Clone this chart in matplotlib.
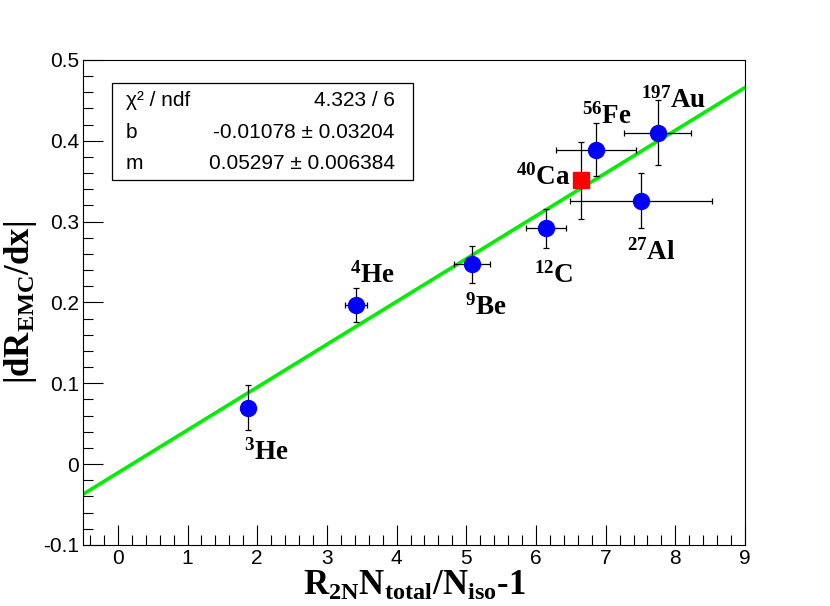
import numpy as np
import matplotlib
matplotlib.use("Agg")
import matplotlib.pyplot as plt
from matplotlib.patches import Rectangle

# --- data ---
nuclei = ["3He", "4He", "9Be", "12C", "56Fe", "27Al", "197Au"]
mass = ["3", "4", "9", "12", "56", "27", "197"]
elem = ["He", "He", "Be", "C", "Fe", "Al", "Au"]
x_val = [1.87, 3.42, 5.08, 6.14, 6.86, 7.51, 7.75]
x_err = [0.0, 0.16, 0.26, 0.29, 0.57, 1.02, 0.48]
y_val = [0.070, 0.197, 0.247, 0.292, 0.389, 0.326, 0.410]
y_err = [0.028, 0.021, 0.023, 0.024, 0.033, 0.034, 0.040]

ca_x = [6.64]
ca_y = [0.351]
ca_yerr = [0.048]

# fit result (straight line y = m*x + b)
chi2, ndf = 4.323, 6
b, b_err = -0.01078, 0.03204
m, m_err = 0.05297, 0.006384

# --- style ---
plt.rcParams["axes.unicode_minus"] = False
plt.rcParams["mathtext.fontset"] = "custom"
plt.rcParams["mathtext.rm"] = "Liberation Serif:bold"
plt.rcParams["mathtext.it"] = "Liberation Serif:bold"
plt.rcParams["mathtext.bf"] = "Liberation Serif:bold"
plt.rcParams["mathtext.default"] = "rm"

fig = plt.figure(figsize=(8.3, 6.06), dpi=100)
ax = fig.add_axes([0.1, 0.1007, 0.7976, 0.8003])

# fit line
xl = np.array([-0.5, 9.0])
ax.plot(xl, m * xl + b, color="#00ee00", lw=2.6, zorder=2)

# data points
ax.errorbar(x_val, y_val, xerr=x_err, yerr=y_err, fmt="o", color="#0000ff",
            ms=11.5, ecolor="black", elinewidth=0.9, capsize=2.5, capthick=0.9,
            zorder=3)
ax.errorbar(ca_x, ca_y, yerr=ca_yerr, fmt="s", color="#ff0000",
            ms=12, ecolor="black", elinewidth=0.9, capsize=2.5, capthick=0.9,
            zorder=3)

# nucleus labels (offsets in points from the marker)
offsets = {"3He": (13, -32.5), "4He": (12, 21), "9Be": (10, -31), "12C": (6, -34),
           "56Fe": (8, 24), "27Al": (7, -37.5), "197Au": (11.5, 23)}
lab_font = dict(family="Liberation Serif", weight="bold", size=19.5)
for nm, a, e, xv, yv in zip(nuclei, mass, elem, x_val, y_val):
    ax.annotate(r"$^{%s}$%s" % (a, e), (xv, yv), xytext=offsets[nm],
                textcoords="offset points", ha="center", va="center", **lab_font)
ax.annotate(r"$^{40}$Ca", (ca_x[0], ca_y[0]), xytext=(-27, 2),
            textcoords="offset points", ha="center", va="center", **lab_font)

# axes
ax.set_xlim(-0.5, 9)
ax.set_ylim(-0.1, 0.5)
ax.set_xticks(np.arange(0, 10, 1))
ax.set_xticks(np.arange(-0.4, 9.01, 0.2), minor=True)
ax.set_yticks(np.arange(-0.1, 0.51, 0.1))
ax.set_yticks(np.arange(-0.1, 0.501, 0.02), minor=True)
ax.set_yticklabels(["-0.1", "0", "0.1", "0.2", "0.3", "0.4", "0.5"])
ax.tick_params(which="both", direction="in", top=False, right=False, width=0.8,
               labelsize=15)
ax.tick_params(which="major", length=14.4)
ax.tick_params(which="minor", length=7.2)
ax.tick_params(axis="x", pad=3)
ax.tick_params(axis="y", pad=3)
for lab in ax.get_xticklabels() + ax.get_yticklabels():
    lab.set_family("Liberation Sans")
for sp in ax.spines.values():
    sp.set_linewidth(0.8)

ax.set_xlabel(r"R$_{2N}$N$_{total}$/N$_{iso}$-1", family="Liberation Serif",
              weight="bold", size=25, labelpad=1)
ax.set_ylabel(r"|dR$_{EMC}$/dx|", family="Liberation Serif",
              weight="bold", size=25, labelpad=3)

# stats box
ax.add_patch(Rectangle((0.0438, 0.7526), 0.4547, 0.2, transform=ax.transAxes,
                       fill=True, facecolor="white", edgecolor="black",
                       lw=0.9, zorder=5))
rows = [("χ² / ndf", "%.3f / %d" % (chi2, ndf)),
        ("b", "%.5f ± %.5f" % (b, b_err)),
        ("m", "%.5f ± %.6f" % (m, m_err))]
row_y = [0.9175, 0.8515, 0.7876]
for (name, val), yy in zip(rows, row_y):
    ax.text(0.065, yy, name, transform=ax.transAxes, ha="left", va="center",
            family="Liberation Sans", size=15, zorder=6)
    ax.text(0.471, yy, val, transform=ax.transAxes, ha="right", va="center",
            family="Liberation Sans", size=15, zorder=6)

fig.savefig("out.png", dpi=100)
